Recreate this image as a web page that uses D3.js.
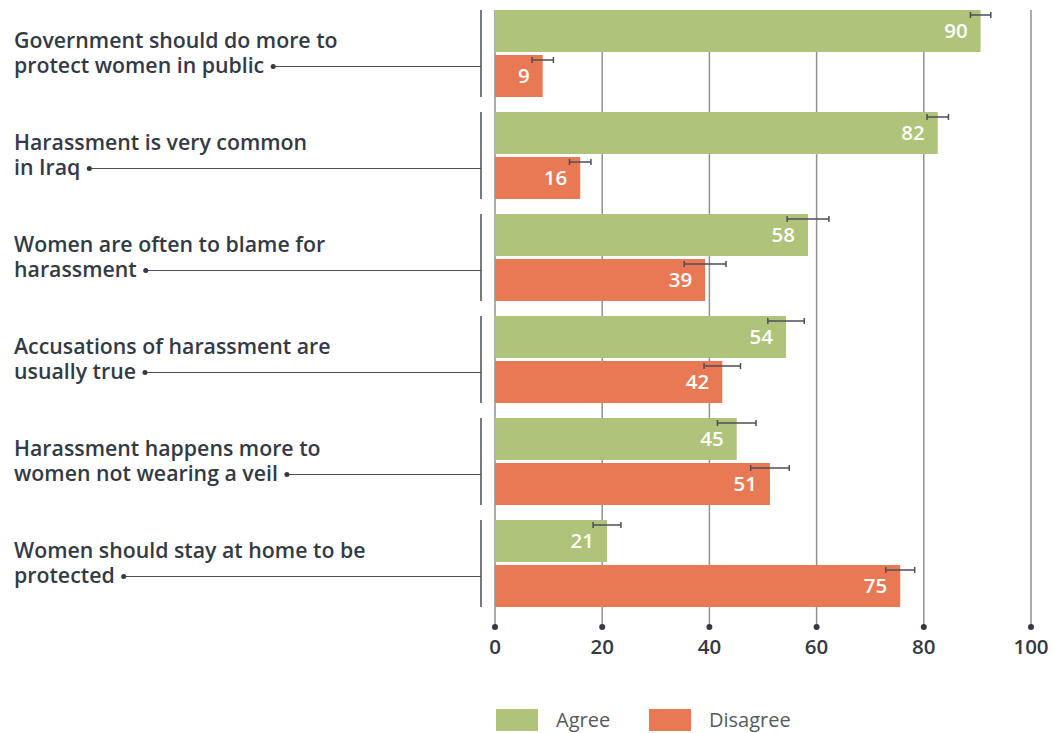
<!DOCTYPE html>
<html>
<head>
<meta charset="utf-8">
<script src="https://cdn.jsdelivr.net/npm/d3@7"></script>
<style>
  body { margin: 0; background: #fff; }
  svg { font-family: "Open Sans", sans-serif; }
</style>
</head>
<body>
<div id="chart"></div>
<script>
const categories = [
  ['Government should do more to', 'protect women in public'],
  ['Harassment is very common', 'in Iraq'],
  ['Women are often to blame for', 'harassment'],
  ['Accusations of harassment are', 'usually true'],
  ['Harassment happens more to', 'women not wearing a veil'],
  ['Women should stay at home to be', 'protected']
];
const series = ['Agree', 'Disagree'];
const agreeValues = [90.6, 82.6, 58.4, 54.3, 45.1, 20.9];
const agreeLabels = ['90', '82', '58', '54', '45', '21'];
const agreeErrors = [1.9, 2.0, 3.9, 3.4, 3.6, 2.6];
const disagreeValues = [8.9, 15.9, 39.2, 42.4, 51.3, 75.6];
const disagreeLabels = ['9', '16', '39', '42', '51', '75'];
const disagreeErrors = [2.0, 2.0, 3.9, 3.4, 3.6, 2.7];
const ticks = [0, 20, 40, 60, 80, 100];

const colors = { Agree: '#afc37a', Disagree: '#e97954' };
const width = 1053, height = 733;

const svg = d3.select('#chart').append('svg')
  .attr('width', width)
  .attr('height', height);

const x = d3.scaleLinear().domain([0, 100]).range([495, 1031]);
const keys = categories.map((d, i) => i);
const y = d3.scaleBand().domain(keys).range([10, 10 + 6 * 102 - 15]).paddingInner(15 / 102);
const ySub = d3.scaleBand().domain(series).range([0, y.bandwidth()]).paddingInner(3 / 45);

const rows = [];
keys.forEach(i => {
  rows.push({ g: i, s: 'Agree', v: agreeValues[i], label: agreeLabels[i], err: agreeErrors[i] });
  rows.push({ g: i, s: 'Disagree', v: disagreeValues[i], label: disagreeLabels[i], err: disagreeErrors[i] });
});

// grid
const axisBottom = 627;
svg.append('g').selectAll('line')
  .data(ticks)
  .join('line')
  .attr('x1', d => x(d)).attr('x2', d => x(d))
  .attr('y1', 10).attr('y2', axisBottom)
  .attr('stroke', '#8e9196')
  .attr('stroke-width', 1.5);

svg.append('g').selectAll('circle')
  .data(ticks)
  .join('circle')
  .attr('cx', d => x(d)).attr('cy', axisBottom)
  .attr('r', 3)
  .attr('fill', '#333a44');

svg.append('g').selectAll('text')
  .data(ticks)
  .join('text')
  .attr('x', d => x(d)).attr('y', axisBottom + 27)
  .attr('text-anchor', 'middle')
  .attr('font-size', 20.5)
  .attr('font-weight', 600)
  .attr('fill', '#333a44')
  .text(d => d);

// bars
const bar = svg.append('g').selectAll('g')
  .data(rows)
  .join('g')
  .attr('transform', d => `translate(0, ${y(d.g) + ySub(d.s)})`);

bar.append('rect')
  .attr('x', x(0))
  .attr('width', d => x(d.v) - x(0))
  .attr('height', ySub.bandwidth())
  .attr('fill', d => colors[d.s]);

bar.append('text')
  .attr('x', d => x(d.v) - 13)
  .attr('y', ySub.bandwidth() / 2 + 7)
  .attr('text-anchor', 'end')
  .attr('font-size', 20.5)
  .attr('font-weight', 600)
  .attr('fill', '#fff')
  .text(d => d.label);

// error bars
const err = bar.append('g')
  .attr('stroke', '#4a4f57')
  .attr('stroke-width', 1.5);
err.append('line')
  .attr('x1', d => x(d.v - d.err)).attr('x2', d => x(d.v + d.err))
  .attr('y1', 5).attr('y2', 5);
err.append('line')
  .attr('x1', d => x(d.v - d.err)).attr('x2', d => x(d.v - d.err))
  .attr('y1', 2).attr('y2', 8);
err.append('line')
  .attr('x1', d => x(d.v + d.err)).attr('x2', d => x(d.v + d.err))
  .attr('y1', 2).attr('y2', 8);

// category labels with brackets
const bracketX = 481;
const cat = svg.append('g').selectAll('g')
  .data(keys)
  .join('g');

cat.append('line')
  .attr('x1', bracketX).attr('x2', bracketX)
  .attr('y1', d => y(d)).attr('y2', d => y(d) + y.bandwidth())
  .attr('stroke', '#4a4f57')
  .attr('stroke-width', 1.5);

cat.each(function (d) {
  const g = d3.select(this);
  const cy = y(d) + y.bandwidth() / 2;
  const label = g.append('text')
    .attr('x', 14)
    .attr('y', cy - 6)
    .attr('font-size', 21.3)
    .attr('font-weight', 600)
    .attr('fill', '#333a44');
  let last;
  categories[d].forEach((t, j) => {
    last = label.append('tspan')
      .attr('x', 14)
      .attr('dy', j === 0 ? 0 : 25)
      .text(t);
  });
  const w = last.node().getComputedTextLength();
  const ly = cy + 13;
  const dotX = 14 + w + 9;
  g.append('line')
    .attr('x1', dotX).attr('x2', bracketX)
    .attr('y1', ly).attr('y2', ly)
    .attr('stroke', '#4a4f57')
    .attr('stroke-width', 1.2);
  g.append('circle')
    .attr('cx', dotX).attr('cy', ly)
    .attr('r', 2.5)
    .attr('fill', '#333a44');
});

// legend
const legend = svg.append('g')
  .selectAll('g')
  .data(series)
  .join('g')
  .attr('transform', (d, i) => `translate(${496 + i * 153}, 709)`);

legend.append('rect')
  .attr('width', 42)
  .attr('height', 22)
  .attr('fill', d => colors[d]);

legend.append('text')
  .attr('x', 60)
  .attr('y', 18)
  .attr('font-size', 20)
  .attr('fill', '#555a61')
  .text(d => d);
</script>
</body>
</html>
